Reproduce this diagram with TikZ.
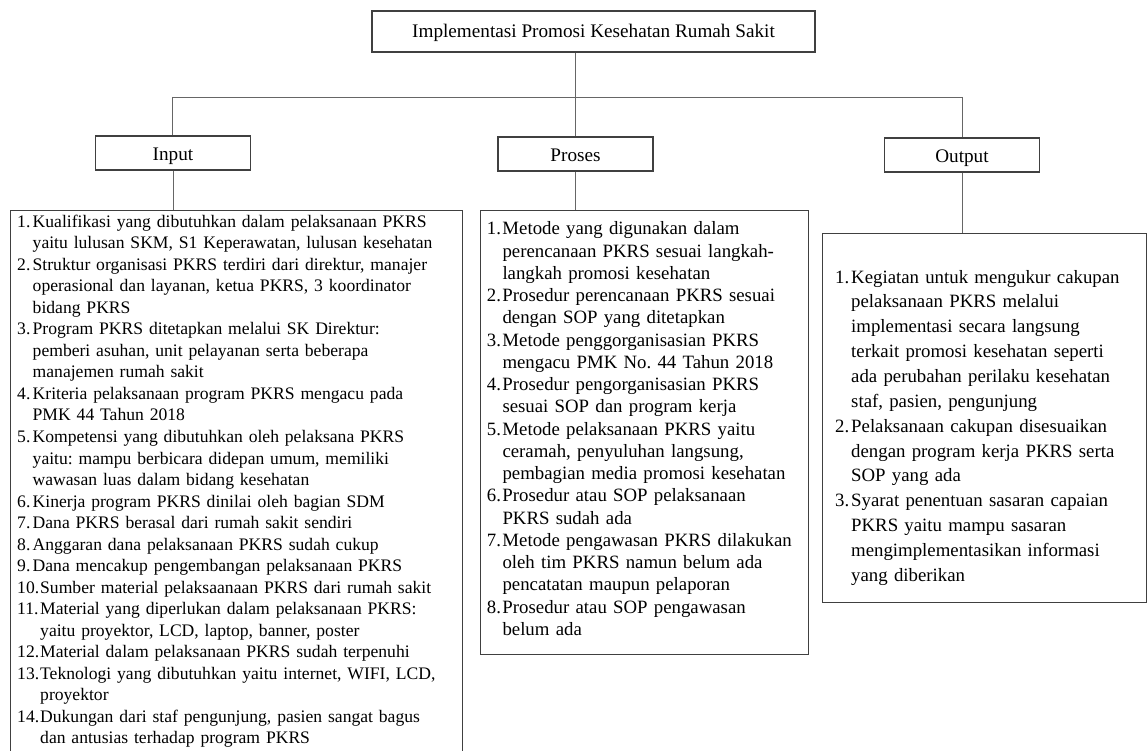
\documentclass[tikz,border=0pt]{standalone}
\usepackage{fontspec}
\setmainfont{Liberation Serif}
\frenchspacing
\newcommand{\itm}[3]{\par\noindent\hangindent=#1\hangafter=1\rule{0pt}{14pt}\makebox[#1][l]{#2}#3\par}
\begin{document}
\begin{tikzpicture}[x=1pt,y=-1pt,
  boxst/.style={draw=black!75,line width=1.3pt,inner sep=0pt,minimum height=34pt,text height=14.5pt,text depth=0pt,font=\fontsize{19.2}{23}\selectfont},
  listbox/.style={draw=black!75,line width=1.3pt,inner sep=0pt,anchor=north west},
  listtext/.style={inner sep=0pt,anchor=north west,align=left},
  conn/.style={draw=black!60,line width=0.9pt}]
\useasboundingbox (0,0) rectangle (1148,751);
% header boxes
\node[boxst,minimum width=443pt,minimum height=41pt,text height=11.5pt] (top) at (593.5,31.5) {Implementasi Promosi Kesehatan Rumah Sakit};
\node[boxst,minimum width=155pt] (inbox) at (173,153) {Input};
\node[boxst,minimum width=155pt] (prbox) at (575.5,154) {Proses};
\node[boxst,minimum width=155pt] (outbox) at (962,155) {Output};
% list boxes
\node[listbox,minimum width=452pt,minimum height=560pt] (inlist) at (10,210) {};
\node[listbox,minimum width=328pt,minimum height=444pt] (prlist) at (480,210) {};
\node[listbox,minimum width=324pt,minimum height=369pt] (outlist) at (822,233) {};
% junction coordinates
\coordinate (hl) at (172,97);
\coordinate (hm) at (575,97);
\coordinate (hr) at (962,97);
% connectors
\draw[conn] (hm |- top.south) -- (hm);
\draw[conn] (hl) -- (hr);
\draw[conn] (hl) -- (hl |- inbox.north);
\draw[conn] (hm) -- (hm |- prbox.north);
\draw[conn] (hr) -- (hr |- outbox.north);
\draw[conn] (inbox.south) -- (inbox.south |- inlist.north);
\draw[conn] (hm |- prbox.south) -- (hm |- prlist.north);
\draw[conn] (outbox.south) -- (outbox.south |- outlist.north);
% texts
\node[listtext,text width=445pt,font=\fontsize{17.6}{21.53}\selectfont] (intext) at (17,205.5) {%
\itm{15.5pt}{1.}{Kualifikasi yang dibutuhkan dalam pelaksanaan PKRS\newline yaitu lulusan SKM, S1 Keperawatan, lulusan kesehatan}%
\itm{15.5pt}{2.}{Struktur organisasi PKRS terdiri dari direktur, manajer\newline operasional dan layanan, ketua PKRS, 3 koordinator\newline bidang PKRS}%
\itm{15.5pt}{3.}{Program PKRS ditetapkan melalui SK Direktur:\newline pemberi asuhan, unit pelayanan serta beberapa\newline manajemen rumah sakit}%
\itm{15.5pt}{4.}{Kriteria pelaksanaan program PKRS mengacu pada\newline PMK 44 Tahun 2018}%
\itm{15.5pt}{5.}{Kompetensi yang dibutuhkan oleh pelaksana PKRS\newline yaitu: mampu berbicara didepan umum, memiliki\newline wawasan luas dalam bidang kesehatan}%
\itm{15.5pt}{6.}{Kinerja program PKRS dinilai oleh bagian SDM}%
\itm{15.5pt}{7.}{Dana PKRS berasal dari rumah sakit sendiri}%
\itm{15.5pt}{8.}{Anggaran dana pelaksanaan PKRS sudah cukup}%
\itm{15.5pt}{9.}{Dana mencakup pengembangan pelaksanaan PKRS}%
\itm{23pt}{10.}{Sumber material pelaksaanaan PKRS dari rumah sakit}%
\itm{23pt}{11.}{Material yang diperlukan dalam pelaksanaan PKRS:\newline yaitu proyektor, LCD, laptop, banner, poster}%
\itm{23pt}{12.}{Material dalam pelaksanaan PKRS sudah terpenuhi}%
\itm{23pt}{13.}{Teknologi yang dibutuhkan yaitu internet, WIFI, LCD,\newline proyektor}%
\itm{23pt}{14.}{Dukungan dari staf pengunjung, pasien sangat bagus\newline dan antusias terhadap program PKRS}};
\node[listtext,text width=318pt,font=\fontsize{18.8}{22.25}\selectfont] (prtext) at (486.7,212.5) {%
\itm{15.6pt}{1.}{Metode yang digunakan dalam\newline perencanaan PKRS sesuai langkah-\newline langkah promosi kesehatan}%
\itm{15.6pt}{2.}{Prosedur perencanaan PKRS sesuai\newline dengan SOP yang ditetapkan}%
\itm{15.6pt}{3.}{Metode penggorganisasian PKRS\newline mengacu PMK No. 44 Tahun 2018}%
\itm{15.6pt}{4.}{Prosedur pengorganisasian PKRS\newline sesuai SOP dan program kerja}%
\itm{15.6pt}{5.}{Metode pelaksanaan PKRS yaitu\newline ceramah, penyuluhan langsung,\newline pembagian media promosi kesehatan}%
\itm{15.6pt}{6.}{Prosedur atau SOP pelaksanaan\newline PKRS sudah ada}%
\itm{15.6pt}{7.}{Metode pengawasan PKRS dilakukan\newline oleh tim PKRS namun belum ada\newline pencatatan maupun pelaporan}%
\itm{15.6pt}{8.}{Prosedur atau SOP pengawasan\newline belum ada}};
\node[listtext,text width=305pt,font=\fontsize{18.8}{24.86}\selectfont] (outtext) at (835,258) {%
\itm{16pt}{1.}{Kegiatan untuk mengukur cakupan\newline pelaksanaan PKRS melalui\newline implementasi secara langsung\newline terkait promosi kesehatan seperti\newline ada perubahan perilaku kesehatan\newline staf, pasien, pengunjung}%
\itm{16pt}{2.}{Pelaksanaan cakupan disesuaikan\newline dengan program kerja PKRS serta\newline SOP yang ada}%
\itm{16pt}{3.}{Syarat penentuan sasaran capaian\newline PKRS yaitu mampu sasaran\newline mengimplementasikan informasi\newline yang diberikan}};
\end{tikzpicture}
\end{document}
